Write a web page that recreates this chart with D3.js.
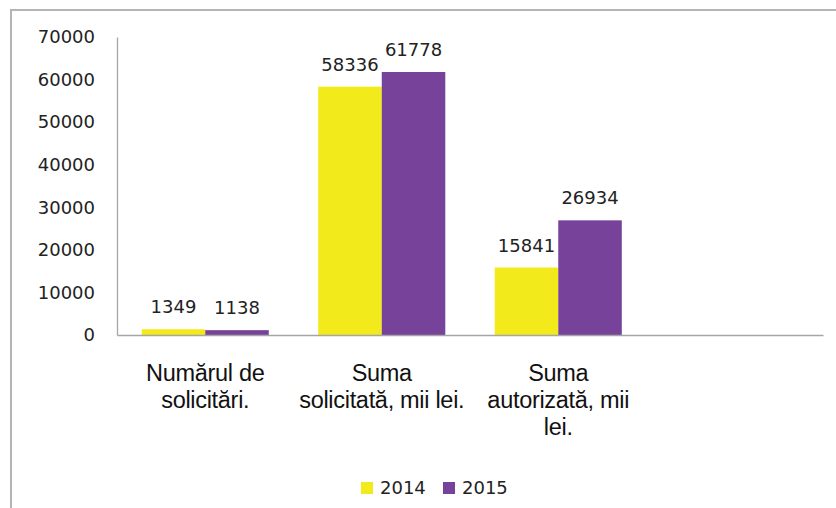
<!DOCTYPE html>
<html>
<head>
<meta charset="utf-8">
<script src="https://cdn.jsdelivr.net/npm/d3@7"></script>
<style>
  body { margin: 0; background: #fff; }
  svg { display: block; }
</style>
</head>
<body>
<div id="chart"></div>
<script>
// Chart data
const categories = ["Numărul de solicitări.", "Suma solicitată, mii lei.", "Suma autorizată, mii lei."];
const categoryLines = [
    ["Numărul de", "solicitări."],
    ["Suma", "solicitată, mii lei."],
    ["Suma", "autorizată, mii", "lei."]
];
const seriesNames = ["2014", "2015"];
const values2014 = [1349, 58336, 15841];
const values2015 = [1138, 61778, 26934];
const yTicks = [0, 10000, 20000, 30000, 40000, 50000, 60000, 70000];
const colors = ["#f2ea1a", "#77439a"];

function drawChart() {
    const width = 836, height = 508;
    const margin = { left: 117, right: 13, top: 37, bottom: 173 };

    const svg = d3.select('#chart')
        .append('svg')
        .attr('width', width)
        .attr('height', height);

    // Outer frame (runs off the right and bottom edges)
    svg.append('rect')
        .attr('x', 11).attr('y', 10)
        .attr('width', width + 20).attr('height', height + 20)
        .attr('fill', '#fff')
        .attr('stroke', '#b4b4b4')
        .attr('stroke-width', 2);

    // x: four slots, the last left empty like the original
    const x = d3.scaleBand()
        .domain(categories.concat(['']))
        .range([margin.left, width - margin.right])
        .paddingInner(0.28)
        .paddingOuter(0.14);

    const xs = d3.scaleBand()
        .domain(seriesNames)
        .range([0, x.bandwidth()]);

    const y = d3.scaleLinear()
        .domain([0, 70000])
        .range([height - margin.bottom, margin.top]);

    const numFont = "'DejaVu Sans', sans-serif";
    const labelFont = "'Liberation Sans', Arial, sans-serif";

    // y axis labels
    const yAxis = svg.append('g')
        .attr('transform', `translate(${margin.left},0)`)
        .call(d3.axisLeft(y).tickValues(yTicks).tickSize(0).tickPadding(22).tickFormat(d3.format('d')));
    yAxis.select('.domain').attr('stroke', '#a6a6a6').attr('stroke-width', 1.3);
    yAxis.selectAll('text')
        .attr('font-family', numFont)
        .attr('font-size', 18)
        .attr('fill', '#222');

    // bars
    const series = [values2014, values2015];
    series.forEach((vals, si) => {
        const g = svg.append('g');
        g.selectAll('rect')
            .data(vals)
            .join('rect')
            .attr('x', (d, i) => x(categories[i]) + xs(seriesNames[si]))
            .attr('y', d => y(d))
            .attr('width', xs.bandwidth())
            .attr('height', d => y(0) - y(d))
            .attr('fill', colors[si]);

        g.selectAll('text')
            .data(vals)
            .join('text')
            .attr('x', (d, i) => x(categories[i]) + xs(seriesNames[si]) + xs.bandwidth() / 2)
            .attr('y', d => y(d) - 16)
            .attr('text-anchor', 'middle')
            .attr('font-family', numFont)
            .attr('font-size', 18)
            .attr('fill', '#222')
            .text(d => d);
    });

    // x axis line
    const xAxis = svg.append('g')
        .attr('transform', `translate(0,${y(0)})`)
        .call(d3.axisBottom(x).tickSize(0).tickFormat(''));
    xAxis.select('.domain').attr('stroke', '#a6a6a6').attr('stroke-width', 1.3);

    // category labels
    categories.forEach((c, i) => {
        const t = svg.append('text')
            .attr('x', x(c) + x.bandwidth() / 2)
            .attr('y', y(0) + 46)
            .attr('text-anchor', 'middle')
            .attr('font-family', labelFont)
            .attr('font-size', 23.5)
            .attr('letter-spacing', -0.3)
            .attr('fill', '#111');
        categoryLines[i].forEach((line, li) => {
            t.append('tspan')
                .attr('x', x(c) + x.bandwidth() / 2)
                .attr('dy', li === 0 ? 0 : 27)
                .text(line);
        });
    });

    // legend
    const legend = svg.append('g').attr('transform', 'translate(361,482)');
    const item = legend.selectAll('g')
        .data(seriesNames)
        .join('g')
        .attr('transform', (d, i) => `translate(${i * 82},0)`);
    item.append('rect')
        .attr('width', 12).attr('height', 12)
        .attr('fill', (d, i) => colors[i]);
    item.append('text')
        .attr('x', 19).attr('y', 6)
        .attr('dy', '0.35em')
        .attr('font-family', numFont)
        .attr('font-size', 18)
        .attr('fill', '#222')
        .text(d => d);
}

drawChart();
</script>
</body>
</html>
